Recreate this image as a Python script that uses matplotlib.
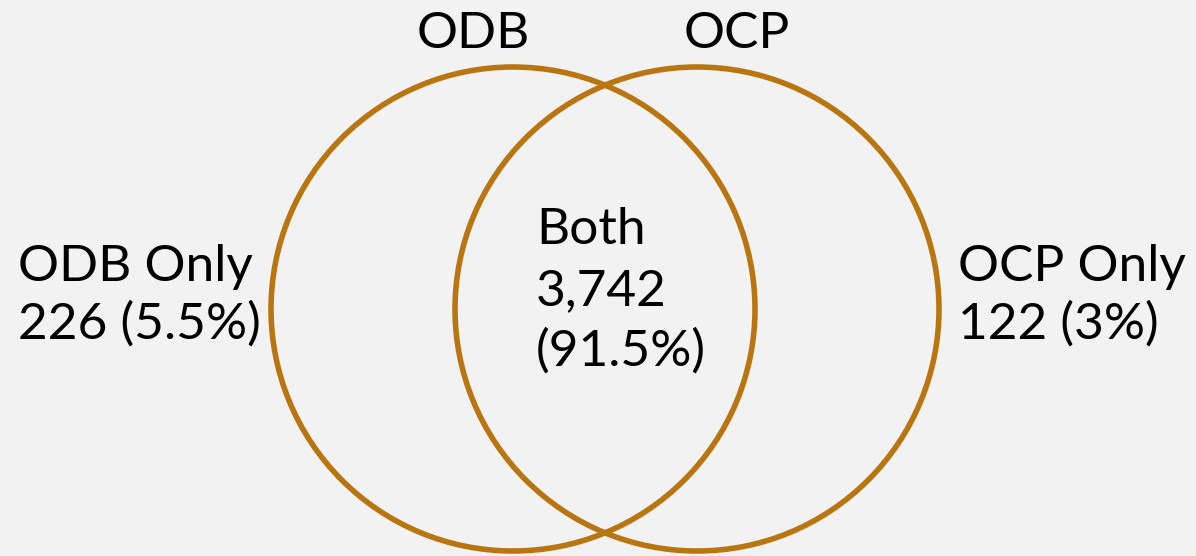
import matplotlib.pyplot as plt
from matplotlib.patches import Circle

# Venn data
set_names = ["ODB", "OCP"]
only_counts = [226, 122]
only_pcts = ["5.5%", "3%"]
both_count = 3742
both_pct = "91.5%"

bg = "#f2f2f2"
ring = "#b87510"
plt.rcParams["font.family"] = ["Lato", "DejaVu Sans"]

fig = plt.figure(figsize=(11.96, 5.56), dpi=100, facecolor=bg)
ax = fig.add_axes([0, 0, 1, 1])
ax.set_facecolor(bg)
ax.set_xlim(0, 1196)
ax.set_ylim(556, 0)
ax.set_aspect("equal")
ax.axis("off")

# circles (pixel layout)
for cx in (513, 697):
    ax.add_patch(Circle((cx, 309), 242, fill=False, ec=ring, lw=4))

fs = 37
ax.text(473, 48, set_names[0], fontsize=fs, ha="center", va="baseline")
ax.text(737, 48, set_names[1], fontsize=fs, ha="center", va="baseline")

ax.text(18, 281, f"{set_names[0]} Only", fontsize=fs, ha="left", va="baseline")
ax.text(18, 339, f"{only_counts[0]} ({only_pcts[0]})", fontsize=fs, ha="left", va="baseline")

ax.text(958, 281, f"{set_names[1]} Only", fontsize=fs, ha="left", va="baseline")
ax.text(958, 339, f"{only_counts[1]} ({only_pcts[1]})", fontsize=fs, ha="left", va="baseline")

ax.text(536, 244, "Both", fontsize=fs, ha="left", va="baseline")
ax.text(536, 305, f"{both_count:,}", fontsize=fs, ha="left", va="baseline")
ax.text(536, 366, f"({both_pct})", fontsize=fs, ha="left", va="baseline")

fig.savefig("out.png", dpi=100, facecolor=bg)
